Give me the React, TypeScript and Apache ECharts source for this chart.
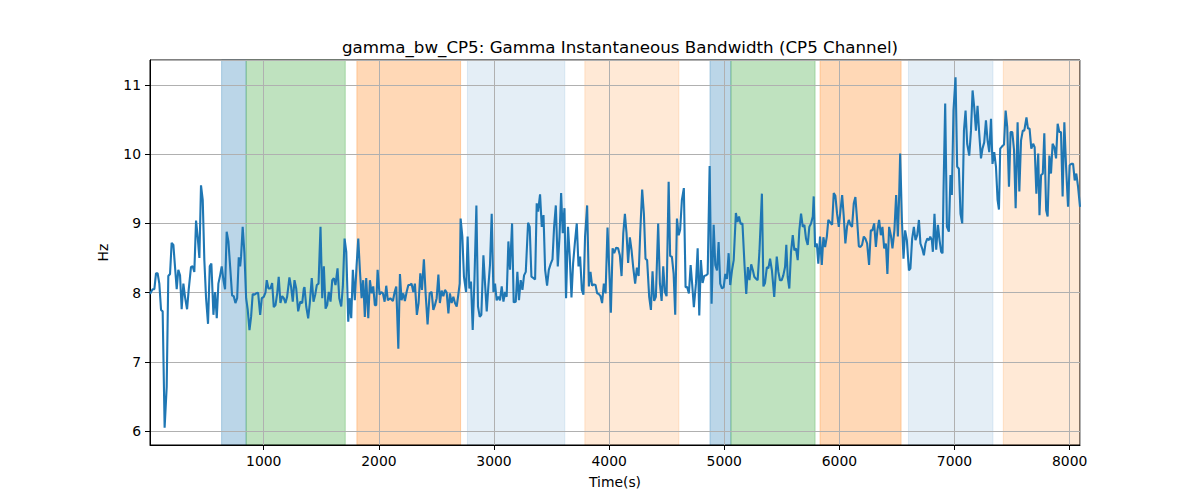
import React, { useEffect, useRef } from "react";
import * as echarts from "echarts";

const TITLE = "gamma_bw_CP5: Gamma Instantaneous Bandwidth (CP5 Channel)";
const X_NAME = "Time(s)";
const Y_NAME = "Hz";

const X_MIN = 12;
const X_MAX = 8090;
const Y_MIN = 5.8;
const Y_MAX = 11.36;

// time stamps (s)
const times: number[] = [
  12, 21, 35, 50, 64, 78, 93, 108, 122, 139, 157, 171, 186, 200, 215, 229, 244, 258, 273, 287,
  302, 316, 334, 348, 368, 383, 397, 412, 426, 441, 455, 470, 484, 499, 516, 531, 545, 563, 577, 592,
  606, 621, 635, 650, 664, 678, 693, 708, 725, 739, 754, 769, 783, 795, 803, 817, 832, 847, 861, 876,
  890, 904, 919, 934, 951, 969, 983, 1000, 1015, 1026, 1041, 1058, 1073, 1087, 1102, 1117, 1130, 1145, 1160, 1174,
  1189, 1203, 1223, 1238, 1252, 1267, 1282, 1299, 1317, 1334, 1348,
  1354, 1369, 1386, 1400, 1417, 1432, 1447, 1461, 1476, 1493, 1508, 1522, 1537, 1551, 1565, 1580, 1595, 1609, 1623, 1641,
  1656, 1673, 1687, 1702, 1717, 1734, 1745, 1760, 1774, 1791, 1806, 1821, 1835, 1850, 1864, 1878, 1890, 1908, 1922, 1937,
  1951, 1965, 1977, 1989, 2006, 2021, 2035, 2050, 2064, 2078, 2099, 2122, 2137, 2151, 2169, 2183, 2197, 2212, 2226, 2241,
  2256, 2270, 2284, 2299, 2313, 2330, 2345, 2360, 2374, 2391, 2406, 2423, 2441, 2458, 2473, 2487, 2502, 2517, 2530, 2545,
  2560, 2574, 2589, 2604, 2617, 2632, 2647, 2661, 2676, 2690, 2702, 2710, 2725, 2739,
  2757, 2771, 2786, 2800, 2815, 2830, 2847, 2861, 2876, 2890, 2908, 2922, 2937, 2951, 2965, 2980, 2995, 3009, 3023, 3038,
  3052, 3067, 3082, 3096, 3110, 3125, 3139, 3157, 3171, 3189, 3203, 3217, 3232, 3247, 3261, 3276, 3296, 3310, 3325, 3343,
  3357, 3371, 3383, 3400, 3415, 3430, 3444, 3461, 3476, 3493, 3508, 3522, 3537, 3554, 3569, 3583, 3597, 3612, 3626, 3643,
  3658, 3673, 3687, 3702, 3719, 3734, 3748, 3763, 3777, 3791, 3809, 3824, 3838, 3852, 3867, 3882, 3896, 3911, 3925, 3939,
  3954, 3969, 3986, 4000, 4015, 4030, 4044, 4061, 4078, 4093,
  4108, 4123, 4137, 4151, 4165, 4180, 4195, 4209, 4226, 4241, 4256, 4270, 4287, 4302, 4316, 4330, 4348, 4363, 4377, 4391,
  4406, 4426, 4441, 4456, 4470, 4484, 4499, 4517, 4530, 4545, 4560, 4574, 4589, 4604, 4617, 4632, 4649, 4664, 4678, 4693,
  4708, 4721, 4736, 4754, 4769, 4783, 4797, 4812, 4826, 4841, 4856, 4873, 4890, 4908, 4922, 4937, 4951, 4965, 4980, 4995,
  5009, 5023, 5038, 5052, 5067, 5082, 5101, 5115, 5128, 5143, 5158, 5176, 5191, 5205, 5219, 5234, 5249, 5261, 5276, 5290,
  5306, 5327, 5340, 5354, 5370, 5383, 5398, 5414, 5434,
  5456, 5470, 5484, 5499, 5513, 5528, 5539, 5551, 5565, 5580, 5595, 5609, 5623, 5638, 5652, 5667, 5682, 5696, 5710, 5725,
  5739, 5754, 5769, 5777, 5789, 5804, 5817, 5832, 5847, 5861, 5876, 5891, 5904, 5922, 5937, 5951, 5965, 5980, 5995, 6009,
  6024, 6038, 6052, 6067, 6082, 6096, 6110, 6125, 6139, 6154, 6169, 6183, 6197, 6212, 6226, 6241, 6258, 6273, 6287, 6302,
  6317, 6330, 6345, 6360, 6374, 6389, 6404, 6417, 6432, 6447, 6461, 6478, 6493, 6508, 6519, 6528, 6543, 6557, 6571, 6586,
  6604, 6617, 6632, 6647, 6661, 6676, 6691, 6704, 6719, 6734, 6748, 6763, 6780,
  6789, 6803, 6812, 6826, 6841, 6856, 6870, 6884, 6896, 6904, 6919, 6934, 6951, 6965, 6977, 6991, 7009, 7023, 7038, 7052,
  7067, 7082, 7096, 7110, 7128, 7143, 7157, 7171, 7186, 7200, 7215, 7230, 7243, 7258, 7273, 7287, 7302, 7317, 7330, 7345,
  7360, 7374, 7386, 7397, 7412, 7430, 7444, 7458, 7473, 7487, 7502, 7517, 7531, 7548, 7563, 7578, 7593, 7606, 7625, 7638,
  7652, 7667, 7683, 7696, 7711, 7727, 7738, 7752, 7767, 7780, 7796, 7809, 7824, 7838, 7852, 7867, 7882, 7896, 7910, 7925,
  7939, 7954, 7969, 7986, 8000, 8015, 8030, 8044, 8058, 8073, 8090,
];

// gamma bandwidth (Hz)
const bandwidth: number[] = [
  7.98, 8.01, 8.05, 8.05, 8.28, 8.28, 8.13, 7.75, 7.73, 6.05, 6.64, 8.24, 8.27, 8.72, 8.69, 8.38, 8.05, 8.33, 8.25, 7.76,
  8.13, 7.94, 7.76, 8.04, 8.37, 8.38, 8.3, 9.04, 8.81, 8.5, 9.55, 9.34, 8.47, 7.92, 7.55, 8.38, 8.42, 7.68, 8.01, 7.63,
  8.13, 8.25, 8.38, 8.18, 8.05, 8.88, 8.74, 8.38, 7.96, 7.95, 7.85, 7.92, 8.51, 8.38, 8.52, 8.95, 8.57, 7.92, 7.75, 7.46,
  7.65, 7.98, 7.97, 7.99, 8.0, 7.68, 7.92, 7.94, 8.0, 8.18, 8.06, 8.06, 8.14, 7.79, 7.82, 7.99, 8.23, 7.85, 7.95, 7.92,
  7.85, 7.94, 8.22, 8.08, 7.87, 8.18, 8.06, 7.73, 7.87, 7.85, 8.06,
  8.08, 7.8, 7.63, 7.85, 8.21, 7.87, 7.97, 8.11, 8.13, 8.95, 7.92, 8.38, 7.77, 7.82, 8.01, 7.87, 8.18, 8.21, 8.11, 8.35,
  7.92, 7.8, 8.09, 8.78, 8.59, 7.58, 7.92, 7.63, 8.33, 7.89, 8.38, 8.78, 8.33, 7.92, 8.18, 7.65, 8.21, 7.63, 8.18, 7.99,
  8.09, 7.82, 7.82, 8.33, 7.97, 8.01, 7.99, 7.87, 8.1, 7.89, 7.92, 7.88, 8.01, 8.09, 7.19, 8.27, 7.89, 7.99, 7.88, 8.01,
  8.11, 8.11, 8.13, 8.01, 8.13, 7.68, 7.85, 8.28, 8.04, 8.48, 7.99, 7.54, 7.99, 8.01, 7.75, 7.82, 7.92, 8.26, 7.85, 8.03,
  7.95, 8.04, 8.0, 7.7, 7.99, 7.85, 7.94, 7.85, 7.8, 7.97, 8.13, 9.07, 8.81, 8.23,
  8.01, 8.81, 8.06, 8.16, 7.46, 8.18, 9.26, 7.8, 7.65, 7.68, 8.54, 8.13, 7.73, 8.09, 8.4, 9.14, 8.01, 8.13, 7.89, 7.94,
  7.89, 8.09, 7.87, 8.01, 7.94, 8.74, 8.33, 9.0, 7.86, 7.87, 8.3, 7.89, 8.18, 8.04, 8.25, 8.3, 9.01, 8.95, 8.23, 8.21,
  8.19, 9.29, 9.17, 9.42, 8.95, 9.12, 8.33, 8.1, 8.33, 8.42, 8.48, 8.95, 9.26, 8.38, 8.81, 9.44, 8.86, 9.22, 7.92, 8.95,
  8.52, 7.93, 8.42, 8.71, 9.0, 8.38, 8.52, 8.04, 7.97, 8.81, 9.26, 8.09, 8.3, 8.1, 8.12, 8.11, 7.99, 7.98, 7.95, 7.85,
  8.13, 7.99, 8.94, 8.38, 7.71, 8.64, 8.57, 8.65, 8.64, 8.54,
  8.24, 8.86, 9.14, 8.86, 8.43, 8.8, 8.61, 8.37, 8.13, 8.36, 8.24, 8.86, 9.49, 9.14, 8.49, 8.47, 7.94, 7.75, 8.31, 7.88,
  7.94, 9.0, 8.13, 7.88, 8.38, 8.01, 7.95, 9.6, 8.53, 8.52, 8.28, 7.68, 9.07, 8.83, 8.91, 9.34, 9.51, 8.08, 8.08, 7.99,
  8.4, 8.13, 7.79, 8.13, 8.64, 7.67, 8.47, 8.14, 8.24, 8.25, 8.27, 9.83, 7.84, 8.98, 8.4, 8.32, 8.73, 8.13, 8.06, 8.08,
  8.27, 8.2, 8.57, 8.11, 8.32, 8.47, 9.15, 9.02, 9.1, 8.99, 9.0, 8.4, 7.98, 8.37, 8.18, 8.41, 8.32, 8.23, 8.2, 8.18,
  8.61, 9.43, 8.09, 8.14, 8.37, 8.35, 8.49, 8.32, 7.94,
  8.52, 8.3, 8.18, 8.18, 8.25, 8.37, 8.69, 8.23, 8.06, 8.59, 8.83, 8.61, 8.64, 8.47, 8.9, 9.14, 8.95, 8.98, 8.78, 8.69,
  8.95, 9.0, 9.1, 9.39, 8.66, 8.71, 8.42, 8.81, 8.4, 8.8, 8.66, 8.81, 9.05, 9.01, 8.98, 9.44, 9.4, 9.14, 8.95, 9.18,
  9.41, 9.1, 8.71, 8.96, 9.05, 8.98, 8.95, 9.29, 9.38, 9.05, 8.67, 8.66, 8.69, 8.81, 8.78, 8.71, 8.4, 8.9, 8.9, 9.0,
  8.66, 8.9, 9.05, 8.83, 8.95, 8.64, 8.71, 8.27, 8.95, 8.83, 8.64, 8.9, 9.41, 8.81, 9.39, 10.01, 9.05, 8.49, 8.9, 8.76,
  8.32, 8.35, 8.78, 8.95, 8.76, 8.83, 9.05, 8.71, 8.64, 8.54, 8.71, 8.78, 8.76,
  8.81, 8.76, 8.59, 9.14, 8.62, 8.98, 8.76, 8.59, 8.57, 9.43, 10.73, 8.95, 8.88, 9.7, 9.41, 10.63, 11.11, 9.82, 9.79, 9.14,
  9.0, 10.34, 10.63, 10.15, 9.98, 10.34, 10.92, 10.68, 10.34, 10.7, 10.29, 9.94, 10.08, 10.17, 10.49, 10.2, 10.03, 10.51, 9.86, 10.03,
  9.82, 9.34, 9.2, 10.08, 10.11, 10.14, 10.63, 10.39, 9.53, 10.32, 10.32, 10.06, 9.22, 10.46, 9.46, 10.2, 10.34, 10.34, 10.53, 10.37,
  10.37, 10.08, 10.15, 10.1, 9.43, 10.01, 9.12, 9.7, 9.72, 10.3, 9.19, 9.1, 9.98, 9.72, 10.15, 10.1, 9.94, 10.44, 10.32, 10.32,
  9.39, 10.46, 9.82, 9.24, 9.84, 9.86, 9.86, 9.62, 9.72, 9.53, 9.24,
];

// shaded intervals: start, end (s) and colour
const spanStarts: number[] = [634, 847, 1809, 2769, 3789, 4876, 5058, 5832, 6600, 7424];
const spanEnds: number[] = [847, 1708, 2710, 3615, 4606, 5058, 5789, 6536, 7334, 8090];
const spanColors: string[] = [
  "rgba(31,119,180,0.3)",
  "rgba(44,160,44,0.3)",
  "rgba(255,127,14,0.3)",
  "rgba(31,119,180,0.12)",
  "rgba(255,127,14,0.17)",
  "rgba(31,119,180,0.3)",
  "rgba(44,160,44,0.3)",
  "rgba(255,127,14,0.3)",
  "rgba(31,119,180,0.12)",
  "rgba(255,127,14,0.17)",
];

const FONT = "DejaVu Sans";

export default function App() {
  const ref = useRef<HTMLDivElement>(null);
  useEffect(() => {
    if (!ref.current) return;
    const chart = echarts.init(ref.current, null, { renderer: "svg" });
    const points = times.map((t, i) => [t, bandwidth[i]]);
    const areas = spanStarts.map((s, i) => [
      {
        xAxis: s,
        itemStyle: { color: spanColors[i], borderColor: spanColors[i], borderWidth: 1 },
      },
      { xAxis: spanEnds[i] },
    ]);
    const labelStyle = {
      showMinLabel: false,
      showMaxLabel: false,
      margin: 9,
      fontFamily: FONT,
      fontSize: 13.9,
      color: "#000",
      formatter: (v: number) => String(v),
    };
    chart.setOption({
      animation: false,
      backgroundColor: "#ffffff",
      textStyle: { fontFamily: FONT },
      title: {
        text: TITLE,
        left: 615,
        textAlign: "center",
        top: 33,
        textStyle: { fontFamily: FONT, fontSize: 16.7, fontWeight: "normal", color: "#000" },
      },
      grid: {
        left: 150,
        top: 60,
        width: 930,
        height: 385,
        show: true,
        borderColor: "#000",
        borderWidth: 1,
        backgroundColor: "transparent",
      },
      xAxis: {
        type: "value",
        min: X_MIN,
        max: X_MAX,
        splitNumber: 8,
        name: X_NAME,
        nameLocation: "middle",
        nameGap: 30,
        nameTextStyle: { fontFamily: FONT, fontSize: 13.9, color: "#000" },
        axisLine: { show: true, lineStyle: { color: "#000", width: 1 } },
        axisTick: { show: true, length: 5, lineStyle: { color: "#000", width: 1 } },
        axisLabel: labelStyle,
        splitLine: { show: true, lineStyle: { color: "#b0b0b0", width: 1 } },
      },
      yAxis: {
        type: "value",
        min: Y_MIN,
        max: Y_MAX,
        splitNumber: 5,
        name: Y_NAME,
        nameLocation: "middle",
        nameGap: 40,
        nameRotate: 90,
        nameTextStyle: { fontFamily: FONT, fontSize: 13.9, color: "#000" },
        axisLine: { show: true, lineStyle: { color: "#000", width: 1 } },
        axisTick: { show: true, length: 5, lineStyle: { color: "#000", width: 1 } },
        axisLabel: labelStyle,
        splitLine: { show: true, lineStyle: { color: "#b0b0b0", width: 1 } },
      },
      series: [
        {
          type: "line",
          data: [],
          z: -1,
          silent: true,
          markArea: { silent: true, z: -1, data: areas },
        },
        {
          type: "line",
          data: points,
          z: 3,
          showSymbol: false,
          symbol: "none",
          silent: true,
          lineStyle: { color: "#1f77b4", width: 2.1 },
        },
      ],
    });
    return () => chart.dispose();
  }, []);
  return (
    <div
      ref={ref}
      style={{ position: "fixed", left: 0, top: 0, width: 1200, height: 500, background: "#fff" }}
    />
  );
}
